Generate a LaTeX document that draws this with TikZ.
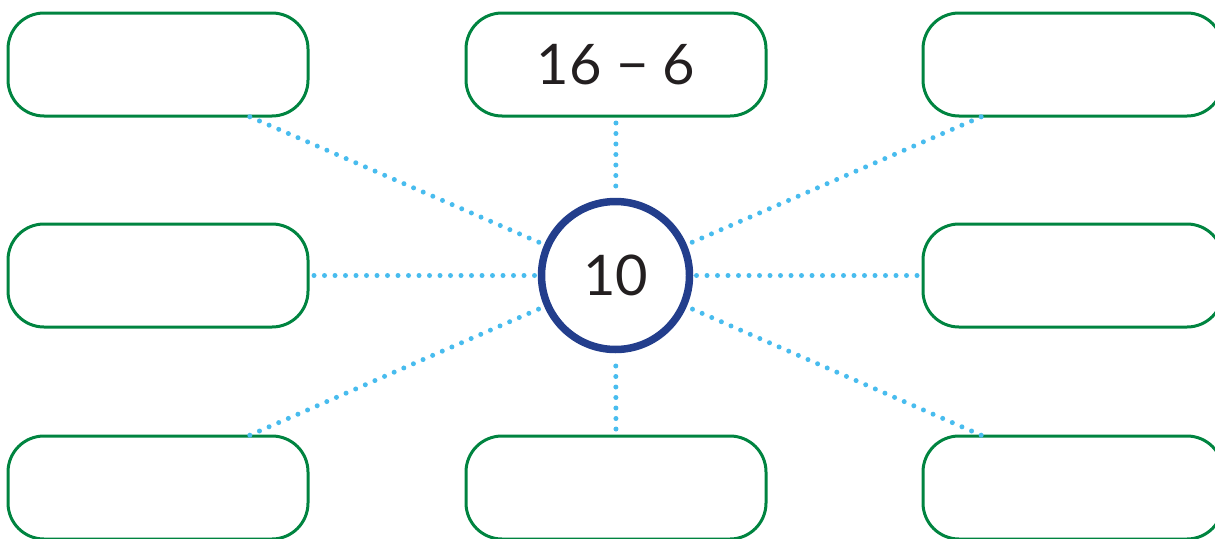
\documentclass[tikz,border=0pt]{standalone}
\usepackage{fontspec}
\setmainfont{Lato}
\definecolor{boxgreen}{RGB}{0,132,64}
\definecolor{ringblue}{RGB}{35,62,140}
\definecolor{dotblue}{RGB}{72,188,238}
\definecolor{ink}{RGB}{35,31,32}
\begin{document}
\begin{tikzpicture}[x=1pt,y=-1pt,
  answerbox/.style={draw=boxgreen,line width=3pt,rounded corners=36pt,
    minimum width=300pt,minimum height=103pt,inner sep=0pt,outer sep=0pt,
    text=ink,font=\fontsize{56}{60}\selectfont},
  hub/.style={circle,draw=ringblue,line width=7.5pt,minimum size=148pt,inner sep=0pt,
    text=ink,font=\fontsize{56}{60}\selectfont},
  spoke/.style={draw=dotblue,line width=5pt,line cap=round,dash pattern=on 0pt off 10.5pt}]
\useasboundingbox (0,0) rectangle (1215,538);
% centre circle
\node[hub] (c) at (615.5,275.5) {10};
% surrounding boxes
\node[answerbox] (tl) at (158,64.5) {};
\node[answerbox] (tm) at (616,64.5) {16 {\addfontfeatures{}−} 6};
\node[answerbox] (tr) at (1073,64.5) {};
\node[answerbox] (ml) at (158,275.5) {};
\node[answerbox] (mr) at (1073,275.5) {};
\node[answerbox] (bl) at (158,487.5) {};
\node[answerbox] (bm) at (616,487.5) {};
\node[answerbox] (br) at (1073,487.5) {};
% spoke start points on the box edges
\coordinate (ptl) at ([xshift=-60pt]tl.south east);
\coordinate (ptr) at ([xshift=60pt]tr.south west);
\coordinate (pbl) at ([xshift=-60pt]bl.north east);
\coordinate (pbr) at ([xshift=60pt]br.north west);
% dotted spokes
\draw[spoke,shorten <=7pt,shorten >=3pt] (tm.south) -- (c);
\draw[spoke,shorten <=7pt,shorten >=3pt] (bm.north) -- (c);
\draw[spoke,shorten <=6pt,shorten >=2pt] (ml.east) -- (c);
\draw[spoke,shorten <=6pt,shorten >=2pt] (mr.west) -- (c);
\draw[spoke,shorten <=2pt,shorten >=2pt] (ptl) -- (c);
\draw[spoke,shorten <=2pt,shorten >=2pt] (ptr) -- (c);
\draw[spoke,shorten <=2pt,shorten >=2pt] (pbl) -- (c);
\draw[spoke,shorten <=2pt,shorten >=2pt] (pbr) -- (c);
\end{tikzpicture}
\end{document}
